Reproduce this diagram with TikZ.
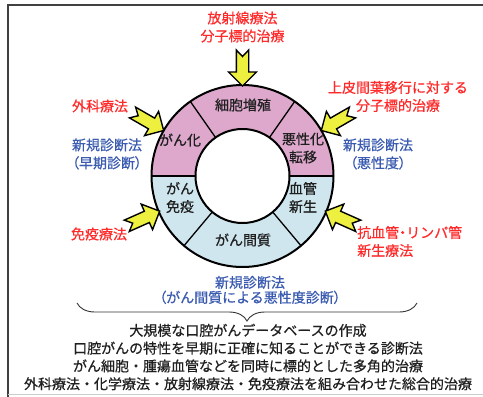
\documentclass[tikz,border=0pt]{standalone}
\usepackage{fontspec}
\setmainfont{Noto Sans CJK JP}[FakeBold=0.6]
\usetikzlibrary{decorations.pathreplacing,calc}
\definecolor{ringpink}{HTML}{DDA8CC}
\definecolor{ringblue}{HTML}{CFE6EE}
\definecolor{txtred}{HTML}{FF2A2A}
\definecolor{txtblue}{HTML}{3A5BB0}
\definecolor{arrowyellow}{HTML}{EEF040}
\newcommand\plp{{\addfontfeatures{RawFeature=+palt}（}}
\newcommand\prp{{\addfontfeatures{RawFeature=+palt}）}}
\newcommand\pdot{{\addfontfeatures{RawFeature=+palt}・}}
\begin{document}
\begin{tikzpicture}[x=1pt,y=-1pt,
  lbl/.style={font=\fontsize{14}{18}\selectfont, inner sep=0pt, align=center},
  redlbl/.style={lbl, text=txtred},
  bluelbl/.style={lbl, text=txtblue},
  ringlbl/.style={lbl, text=black!88},
  fatarrow/.pic={\draw[fill=arrowyellow, line width=1.4pt, line join=miter]
     (0,0) -- (-14,14) -- (-14,6.2) -- (-36,6.2) -- (-29.5,0) -- (-36,-6.2)
     -- (-14,-6.2) -- (-14,-14) -- cycle;}
]
\useasboundingbox (0,0) rectangle (483,397);
% frame
\draw[line width=2pt, black!75] (8,397) -- (8,5) -- (483,5);
\draw[line width=1pt, black!20] (8,394) -- (483,394);
% ring
\coordinate (c) at (242.5,176);
\fill[ringblue] (c) circle[radius=91];
\fill[ringpink] ($(c)+(180:91)$) arc[start angle=180,end angle=360,radius=91] -- cycle;
\fill[white] (c) circle[radius=47];
\foreach \a in {-125,-55,130,50,0,180}
  \draw[line width=1.3pt] ($(c)+(\a:47)$) -- ($(c)+(\a:91)$);
\draw[line width=2pt] (c) circle[radius=91] (c) circle[radius=47];
% ring labels
\node[ringlbl] (prolif) at (243,105) {細胞増殖};
\node[ringlbl] (carcin) at (180,140) {がん化};
\node[ringlbl] (malig) at (303,148) {悪性化\\転移};
\node[ringlbl] (angio) at (303,197.5) {血管\\新生};
\node[ringlbl] (immune) at (180,197.5) {がん\\免疫};
\node[ringlbl] (stroma) at (243,240) {がん間質};
% arrows
\pic[rotate=-90] at ($(c)+(-90:90)$) {fatarrow};
\pic[rotate=-30] at ($(c)+(-150:91)$) {fatarrow};
\pic[rotate=-150] at ($(c)+(-30:91)$) {fatarrow};
\pic[rotate=24] at ($(c)+(157:90)$) {fatarrow};
\pic[rotate=156] at ($(c)+(23:90)$) {fatarrow};
% outer labels
\node[redlbl] (rt) at (242.5,27) {放射線療法\\分子標的治療};
\node[redlbl] (surg) at (100,106) {外科療法};
\node[redlbl] (emt) at (398,96.5) {上皮間葉移行に対する\\分子標的治療};
\node[bluelbl] (dxl) at (107,154) {新規診断法\\\plp 早期診断\prp};
\node[bluelbl] (dxr) at (378,154) {新規診断法\\\plp 悪性度\prp};
\node[redlbl] (immu) at (99,234) {免疫療法};
\node[redlbl, align=left, anchor=west] (anti) at (357,241.5) {抗血管\pdot リンパ管\\新生療法};
\node[bluelbl, font=\fontsize{14}{15}\selectfont] (dxb) at (250,290) {新規診断法\\\plp がん間質による悪性度診断\prp};
% brace
\coordinate (bl) at (77,303);
\coordinate (br) at (417,303);
\draw[line width=0.9pt, black!80, decorate, decoration={brace, mirror, amplitude=18pt}] (bl) -- (br);
% bottom text
\node[ringlbl, font=\fontsize{14}{17.8}\selectfont] (summary) at (248,357)
  {大規模な口腔がんデータベースの作成\\口腔がんの特性を早期に正確に知ることができる診断法\\がん細胞・腫瘍血管などを同時に標的とした多角的治療\\外科療法・化学療法・放射線療法・免疫療法を組み合わせた総合的治療};
\end{tikzpicture}
\end{document}
